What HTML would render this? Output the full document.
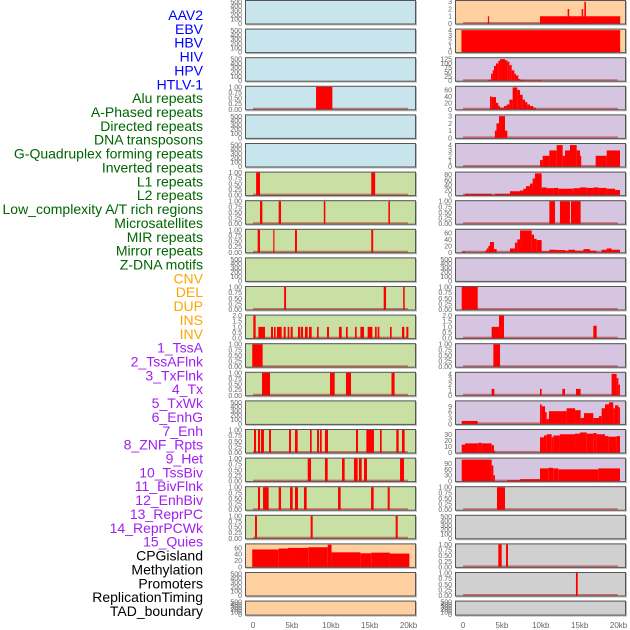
<!DOCTYPE html>
<html><head><meta charset="utf-8"><style>
body{margin:0;background:#fff;}
svg{display:block;font-family:"Liberation Sans",sans-serif;}
</style></head><body>
<svg id="chart" width="630" height="630"></svg>
<script>
const labels=["AAV2","EBV","HBV","HIV","HPV","HTLV-1","Alu repeats","A-Phased repeats","Directed repeats","DNA transposons","G-Quadruplex forming repeats","Inverted repeats","L1 repeats","L2 repeats","Low_complexity A/T rich regions","Microsatellites","MIR repeats","Mirror repeats","Z-DNA motifs","CNV","DEL","DUP","INS","INV","1_TssA","2_TssAFlnk","3_TxFlnk","4_Tx","5_TxWk","6_EnhG","7_Enh","8_ZNF_Rpts","9_Het","10_TssBiv","11_BivFlnk","12_EnhBiv","13_ReprPC","14_ReprPCWk","15_Quies","CPGisland","Methylation","Promoters","ReplicationTiming","TAD_boundary"];
const labelColors=["#0000ff","#0000ff","#0000ff","#0000ff","#0000ff","#0000ff","#006400","#006400","#006400","#006400","#006400","#006400","#006400","#006400","#006400","#006400","#006400","#006400","#006400","#ffa500","#ffa500","#ffa500","#ffa500","#ffa500","#a020f0","#a020f0","#a020f0","#a020f0","#a020f0","#a020f0","#a020f0","#a020f0","#a020f0","#a020f0","#a020f0","#a020f0","#a020f0","#a020f0","#a020f0","#000","#000","#000","#000","#000"];
const xTicks=[0,5,10,15,20];
const xTickLabels=["0","5kb","10kb","15kb","20kb"];
const unitTicks=[0,0.25,0.5,0.75,1];
const emptyTicks=[0,100,200,300,400,500];
// left column data (kb intervals, optional value)
const L4=[[8.1,10.2]];
const L7=[[0.4,0.9],[15.2,15.7]];
const L8=[[0.9,1.2],[3.3,3.6],[9.1,9.3],[17.4,17.6]];
const L9=[[0.6,0.9],[2.6,2.75],[5.4,5.65],[15.2,15.45]];
const L11=[[4.0,4.25],[16.8,17.1],[19.3,19.5]];
const L12=[[0.04,0.34,2],[0.69,1.54,1],[2.31,2.57,1],[2.7,2.91,1],[3.08,3.68,1],[3.94,4.2,1],[4.46,4.67,1],[4.84,5.1,1],[5.78,6.04,1],[6.13,6.43,1],[6.68,7.03,1],[7.2,7.54,1],[8.23,8.44,1],[9.51,9.77,1],[11.05,11.4,1],[11.95,12.17,1],[13.11,13.32,1],[13.8,14.27,1],[14.74,15.34,1],[15.68,15.9,1],[16.02,16.24,1],[17.61,17.82,1],[19.15,19.45,1],[19.71,19.97,1]];
const L13=[[-0.1,1.24]];
const L14=[[1.16,2.19],[9.9,10.5],[11.95,12.6],[17.8,18.2]];
const L16=[[0.13,0.39],[0.64,0.9],[1.03,1.41],[2.06,2.31],[4.63,4.88],[5.4,5.74],[7.33,7.54],[8.23,8.48],[8.61,8.83],[9.25,9.64],[13.24,13.5],[14.57,15.55],[16.32,16.54],[18.42,18.72],[19.15,19.49]];
const L17=[[7.03,7.46],[9.25,9.6],[11.44,11.78],[12.98,13.45],[13.62,13.97],[14.27,14.65],[18.9,19.41]];
const L18=[[0.64,0.9],[1.29,2.01],[3.3,3.6],[4.76,5.1],[5.4,5.78],[6.55,6.9],[10.93,11.27],[15.17,15.51],[17.31,17.57]];
const L19=[[0.26,0.51],[7.41,7.67],[18.34,18.6]];
const L20=[[-0.1,3.3,55],[3.3,4.5,58],[4.5,7.1,60],[7.1,9.6,62],[9.6,10.1,70],[10.1,13.8,46],[13.8,15.2,43],[15.2,16.0,45],[16.0,17.6,45],[17.6,20.1,42]];
// right column data
const R1=[[3.2,3.35,1],[9.9,20.2,1],[13.45,13.65,2],[15.25,15.45,2],[15.6,15.8,3]];
const R2=[[-0.2,20.2,4]];
const R3=[[3.26,3.6,5],[3.6,3.81,40],[3.81,3.98,60],[3.98,4.24,85],[4.24,4.54,100],[4.54,4.76,115],[4.76,5.4,125],[5.4,5.7,118],[5.7,5.96,110],[5.96,6.26,90],[6.26,6.6,60],[6.6,6.81,40],[6.81,7.11,30],[7.11,7.33,10],[7.33,7.97,5],[7.97,10.1,3]];
const R4=[[3.47,3.7,40],[3.7,4.24,38],[4.24,4.54,20],[4.54,4.76,10],[4.76,5.27,5],[5.27,5.61,10],[5.61,5.96,15],[5.96,6.38,30],[6.38,6.98,68],[6.98,7.33,60],[7.33,7.67,45],[7.67,7.97,30],[7.97,8.27,22],[8.27,8.61,15],[8.61,9.04,10],[9.04,9.38,5]];
const R5=[[4.1,4.3,1],[4.3,4.63,2],[4.63,5.4,3],[5.4,5.7,1]];
const R6=[[9.9,10.24,1.2],[10.24,11.1,2],[11.1,12.04,3],[12.04,12.81,4],[12.81,13.11,2],[13.11,13.75,3],[13.75,14.61,4],[14.61,15.04,3],[15.04,15.17,2],[17.05,18.47,2],[18.47,20.18,3]];
const R7=[[0.26,3.68,5],[4.11,6.04,5],[6.04,7.33,15],[7.33,7.76,18],[7.76,8.1,25],[8.1,8.61,35],[8.61,8.95,45],[8.95,9.25,65],[9.25,10.11,85],[10.11,10.75,30],[10.75,11.61,27],[11.61,12.25,28],[12.25,14.18,25],[14.18,15.04,27],[15.04,15.9,30],[15.9,16.75,28],[16.75,17.4,30],[17.4,18.47,28],[18.47,19.54,25],[19.54,20.18,20]];
const R8=[[11.1,11.83],[12.46,13.75],[13.88,15.12]];
const R9=[[-0.17,0.26,3],[2.83,3.04,5],[3.04,3.26,12],[3.26,3.47,20],[3.47,3.98,32],[3.98,4.33,10],[6.04,6.68,12],[6.68,6.98,30],[6.98,7.33,40],[7.33,8.83,68],[8.83,9.13,55],[9.13,9.47,42],[9.47,10.11,38],[10.11,11.1,3],[11.1,12.04,8],[12.04,13.11,7],[13.11,13.54,5],[13.54,14.4,8],[14.4,15.47,5],[15.47,16.32,10],[16.32,17.18,5],[17.82,18.47,8],[18.47,19.1,12],[19.1,20.18,8]];
const R11=[[-0.17,1.89]];
const R12=[[3.68,4.63,1],[4.63,5.27,2],[16.75,17.18,1.1]];
const R13=[[3.9,4.76]];
const R14=[[3.68,4.03,1.2],[9.9,10.11,1.2],[12.77,13.11,1.2],[14.52,15.12,1.2],[19.1,19.75,4],[19.75,19.97,3.2],[19.97,20.18,2]];
const R15=[[-0.17,1.89,1.5],[9.9,10.11,10],[10.11,10.54,9],[10.54,10.75,6],[10.75,11.05,2.5],[11.05,13.32,6.5],[13.32,14.4,8],[14.4,15.12,7],[15.12,15.55,3],[15.55,16.75,5.5],[16.75,17.48,3],[17.48,17.82,4],[17.82,18.25,8],[18.25,18.77,10],[18.77,19.32,11],[19.32,19.54,8],[19.54,19.97,9.5],[19.97,20.18,8.5]];
const R16=[[-0.17,0.26,13],[0.26,1.97,15],[1.97,2.4,16],[2.4,3.68,15],[3.68,3.98,12],[3.98,4.11,3],[9.9,10.41,25],[10.41,10.75,28],[10.75,11.4,30],[11.4,11.61,25],[11.61,12.46,28],[12.46,14.4,30],[14.4,15.04,31],[15.04,15.9,33],[15.9,16.75,31],[16.75,17.18,32],[17.18,18.25,30],[18.25,18.68,27],[18.68,19.75,26],[19.75,20.18,27]];
const R17=[[-0.17,3.68,110],[3.68,3.9,80],[3.9,4.11,30],[5.7,7.3,5],[7.3,9.9,10],[9.9,10.96,65],[10.96,11.6,68],[11.6,12.25,65],[12.25,17.4,60],[17.4,20.18,65]];
const R18=[[4.37,5.4]];
const R20=[[4.54,4.97],[5.53,5.78]];
const R21=[[14.52,14.75]];

const BLUE="#c8e4ec",GREEN="#c8e0a4",ORANGE="#ffd09f",LAV="#d5c5e1",GREY="#d0d0d0";
// [data, ticks, ymax, bg]
const leftCol=[
[null,emptyTicks,520,BLUE],[null,emptyTicks,520,BLUE],[null,emptyTicks,520,BLUE],[L4,unitTicks,1,BLUE],[null,emptyTicks,520,BLUE],[null,emptyTicks,520,BLUE],
[L7,unitTicks,1,GREEN],[L8,unitTicks,1,GREEN],[L9,unitTicks,1,GREEN],[null,emptyTicks,520,GREEN],[L11,unitTicks,1,GREEN],[L12,[0,0.5,1,1.5,2],2,GREEN],[L13,unitTicks,1,GREEN],[L14,unitTicks,1,GREEN],[null,emptyTicks,520,GREEN],[L16,unitTicks,1,GREEN],[L17,unitTicks,1,GREEN],[L18,unitTicks,1,GREEN],[L19,unitTicks,1,GREEN],
[L20,[0,20,40,60],71,ORANGE],[null,emptyTicks,520,ORANGE],[null,emptyTicks,520,ORANGE]];
const rightCol=[
[R1,[0,1,2,3],3.1,ORANGE],[R2,[0,1,2,3,4],4.1,ORANGE],[R3,[0,25,50,75,100,125],130,LAV],[R4,[0,20,40,60],70,LAV],[R5,[0,1,2,3],3.1,LAV],[R6,[0,1,2,3,4],4.2,LAV],[R7,[0,20,40,60,80],88,LAV],[R8,unitTicks,1,LAV],[R9,[0,20,40,60],70,LAV],[null,emptyTicks,520,LAV],[R11,unitTicks,1,LAV],[R12,[0,0.5,1,1.5,2],2,LAV],[R13,unitTicks,1,LAV],[R14,[0,1,2,3,4],4.2,LAV],[R15,[0,3,6,9],11.5,LAV],[R16,[0,10,20,30],37,LAV],[R17,[0,30,60,90],115,LAV],
[R18,unitTicks,1,GREY],[null,emptyTicks,520,GREY],[R20,unitTicks,1,GREY],[R21,unitTicks,1,GREY],[null,emptyTicks,520,GREY]];

const svg=document.getElementById('chart');
const NS="http://www.w3.org/2000/svg";
function mk(tag,attrs,parent){const e=document.createElementNS(NS,tag);for(const k in attrs)e.setAttribute(k,attrs[k]);(parent||svg).appendChild(e);return e;}
const PX=7.78;
function fmt(t,ticks){const mx=Math.max(...ticks);if(mx===1)return t.toFixed(2);if(mx===2)return t.toFixed(1);return String(t);}

labels.forEach((s,i)=>{
  const t=mk('text',{x:203,y:20+i*13.86,'text-anchor':'end','font-size':14,fill:labelColors[i]});
  t.textContent=s;
  
  
});

function drawPanel(cfg,row,side){
  const [data,ticks,ymax,bg]=cfg;
  const px0=side==='left'?245:455, pw=171;
  const x0=side==='left'?253:463;
  const top=row*28.6, h=row===21?15:24.5, bot=top+h;
  const g=mk('g',{});
  
  
  mk('rect',{x:px0+1,y:top+1,width:pw,height:h,fill:'#bbb'},g);
  mk('rect',{x:px0,y:top,width:pw,height:h,fill:bg},g);
  const xs=kb=>Math.max(px0,Math.min(px0+pw,x0+kb*PX));
  const ys=v=>bot-1-v/ymax*(h-2);
  if(data){
    const bl=mk('line',{x1:xs(0),x2:xs(19.9),y1:bot-1.5,y2:bot-1.5,stroke:'rgba(190,30,30,0.55)','stroke-width':2},g);
    
    
    data.forEach(d=>{
      const v=d.length>2?d[2]:1;
      const x1=xs(d[0]),x2=xs(d[1]);
      const r=mk('rect',{x:x1,y:ys(v),width:Math.max(1.2,x2-x1),height:bot-1-ys(v),fill:'#ff0000'},g);
      
      
    });
  }
  mk('rect',{x:px0+0.5,y:top+0.5,width:pw-1,height:h-1,fill:'none',stroke:'#555','stroke-width':1},g);
  ticks.forEach(t=>{
    const tt=mk('text',{x:px0-3,y:ys(t)+2.5,'text-anchor':'end','font-size':7,fill:'#666'},g);
    tt.textContent=fmt(t,ticks);
    
    
  });
}
leftCol.forEach((c,i)=>drawPanel(c,i,'left'));
rightCol.forEach((c,i)=>drawPanel(c,i,'right'));
['left','right'].forEach(side=>{
  const x0=side==='left'?253:463;
  xTicks.forEach((v,i)=>{
    const t=mk('text',{x:x0+v*PX,y:628,'text-anchor':'middle','font-size':8,fill:'#666'});
    t.textContent=xTickLabels[i];
    
    
  });
});
</script>
</body></html>
